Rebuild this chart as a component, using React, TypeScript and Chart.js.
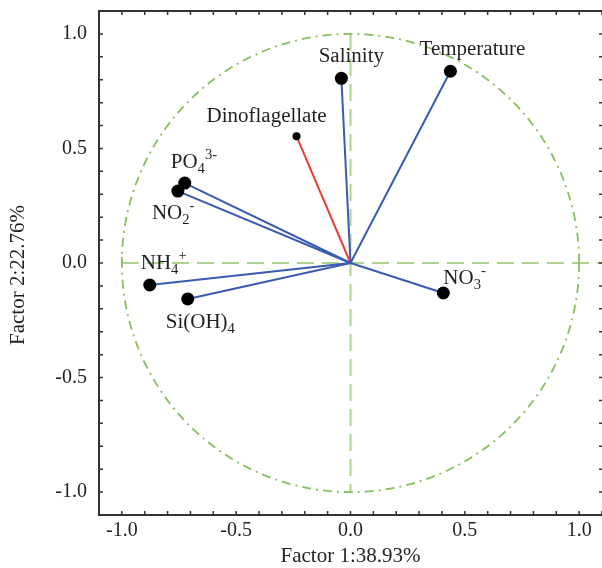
import React, { useEffect, useRef } from 'react';
import { Chart, registerables } from 'chart.js';

Chart.register(...registerables);

// ---- data ----
const variables = ['Salinity', 'Temperature', 'Dinoflagellate', 'PO4', 'NO2', 'NH4', 'Si(OH)4', 'NO3'];
const factor1 = [-0.04, 0.437, -0.236, -0.725, -0.755, -0.878, -0.712, 0.406];
const factor2 = [0.806, 0.837, 0.553, 0.349, 0.314, -0.096, -0.157, -0.131];
// label text: [main, subscript, superscript]
const labelMain = ['Salinity', 'Temperature', 'Dinoflagellate', 'PO', 'NO', 'NH', 'Si(OH)', 'NO'];
const labelSub = ['', '', '', '4', '2', '4', '4', '3'];
const labelSup = ['', '', '', '3-', '-', '+', '', '-'];
const tickValues = [-1.0, -0.5, 0.0, 0.5, 1.0];
const tickLabels = ['-1.0', '-0.5', '0.0', '0.5', '1.0'];
const xTitle = 'Factor 1:38.93%';
const yTitle = 'Factor 2:22.76%';

// ---- styles ----
const FONT = '"Liberation Serif", "Times New Roman", serif';
const TEXT = '#231f20';
const BLUE = '#3a5bb4';
const RED = '#e8402e';
const labelOffsets: [number, number, CanvasTextAlign][] = [
  [10, -22, 'center'],
  [22, -22, 'center'],
  [-30, -20, 'center'],
  [-14, -20, 'left'],
  [-26, 23, 'left'],
  [-9, -21, 'left'],
  [-22, 24, 'left'],
  [0, -14, 'left'],
];

function tickText(v: number): string {
  for (let i = 0; i < tickValues.length; i++) {
    if (Math.abs(v - tickValues[i]) < 1e-6) return tickLabels[i];
  }
  return '';
}

const decorPlugin = {
  id: 'decor',
  afterLayout(chart: any) {
    // stretch the plot area to the right edge of the canvas
    const a = chart.chartArea;
    const xs = chart.scales.x;
    a.right = chart.width;
    a.width = a.right - a.left;
    xs.right = chart.width;
    xs.width = xs.right - xs.left;
    xs.configure();
  },
  beforeDatasetsDraw(chart: any) {
    const { ctx, chartArea, scales } = chart;
    const xs = scales.x;
    const ys = scales.y;
    const cx = xs.getPixelForValue(0);
    const cy = ys.getPixelForValue(0);
    ctx.save();
    // crosshair
    ctx.strokeStyle = '#acd391';
    ctx.lineWidth = 2;
    ctx.setLineDash([17, 8]);
    ctx.beginPath();
    ctx.moveTo(xs.getPixelForValue(-1), cy);
    ctx.lineTo(chartArea.right, cy);
    ctx.moveTo(cx, ys.getPixelForValue(1));
    ctx.lineTo(cx, ys.getPixelForValue(-1));
    ctx.stroke();
    ctx.setLineDash([]);
    ctx.beginPath();
    ctx.moveTo(xs.getPixelForValue(-1), cy);
    ctx.lineTo(xs.getPixelForValue(-1), cy - 6);
    ctx.stroke();
    // circle
    const rx = xs.getPixelForValue(1) - cx;
    const ry = cy - ys.getPixelForValue(1);
    ctx.strokeStyle = '#86bf5c';
    ctx.lineWidth = 1.8;
    ctx.setLineDash([9, 5, 2, 5]);
    ctx.beginPath();
    ctx.ellipse(cx, cy, rx, ry, 0, 0, Math.PI * 2);
    ctx.stroke();
    ctx.setLineDash([]);
    // top border
    ctx.strokeStyle = '#333';
    ctx.lineWidth = 2;
    ctx.beginPath();
    ctx.moveTo(chartArea.left, chartArea.top);
    ctx.lineTo(chartArea.right, chartArea.top);
    ctx.stroke();
    // inward ticks
    ctx.lineWidth = 1.5;
    ctx.beginPath();
    xs.ticks.forEach((t: any) => {
      const px = xs.getPixelForValue(t.value);
      ctx.moveTo(px, chartArea.bottom);
      ctx.lineTo(px, chartArea.bottom - 4);
      ctx.moveTo(px, chartArea.top);
      ctx.lineTo(px, chartArea.top + 4);
    });
    ys.ticks.forEach((t: any) => {
      const py = ys.getPixelForValue(t.value);
      ctx.moveTo(chartArea.left, py);
      ctx.lineTo(chartArea.left + 4, py);
      ctx.moveTo(chartArea.right, py);
      ctx.lineTo(chartArea.right - 3, py);
    });
    ctx.stroke();
    ctx.restore();
  },
  afterDatasetsDraw(chart: any) {
    const { ctx, scales } = chart;
    const xs = scales.x;
    const ys = scales.y;
    ctx.save();
    ctx.fillStyle = TEXT;
    ctx.textBaseline = 'middle';
    variables.forEach((_, i) => {
      const px = xs.getPixelForValue(factor1[i]);
      const py = ys.getPixelForValue(factor2[i]);
      const [dx, dy, align] = labelOffsets[i];
      const mainFont = '20px ' + FONT;
      const subFont = '14px ' + FONT;
      const sx = 1.05;
      ctx.font = mainFont;
      const wMain = ctx.measureText(labelMain[i]).width * sx;
      ctx.font = subFont;
      const wSub = labelSub[i] ? ctx.measureText(labelSub[i]).width * sx : 0;
      const wSup = labelSup[i] ? ctx.measureText(labelSup[i]).width * sx : 0;
      const total = wMain + wSub + wSup;
      let x = px + dx;
      if (align === 'center') x -= total / 2;
      const y = py + dy;
      ctx.textAlign = 'left';
      const put = (s: string, font: string, xx: number, yy: number) => {
        ctx.save();
        ctx.font = font;
        ctx.translate(xx, yy);
        ctx.scale(sx, 1);
        ctx.fillText(s, 0, 0);
        ctx.restore();
      };
      put(labelMain[i], mainFont, x, y);
      x += wMain;
      if (labelSub[i]) {
        put(labelSub[i], subFont, x, y + 6);
        x += wSub;
      }
      if (labelSup[i]) {
        put(labelSup[i], subFont, x, y - 8);
      }
    });
    // axis titles
    ctx.font = '21px ' + FONT;
    ctx.textAlign = 'center';
    ctx.textBaseline = 'middle';
    ctx.fillText(xTitle, xs.getPixelForValue(0), 556);
    ctx.save();
    ctx.translate(18, 275);
    ctx.rotate(-Math.PI / 2);
    ctx.fillText(yTitle, 0, 0);
    ctx.restore();
    ctx.restore();
  },
};

export default function App() {
  const ref = useRef<HTMLCanvasElement | null>(null);
  useEffect(() => {
    if (!ref.current) return;
    const datasets = variables.map((name, i) => ({
      label: name,
      data: [
        { x: 0, y: 0 },
        { x: factor1[i], y: factor2[i] },
      ],
      showLine: true,
      borderColor: i === 2 ? RED : BLUE,
      borderWidth: 2,
      pointRadius: [0, i === 2 ? 4 : 6.5],
      pointBackgroundColor: '#000',
      pointBorderColor: '#000',
      pointBorderWidth: 0,
    }));
    const chart = new Chart(ref.current, {
      type: 'scatter',
      data: { datasets },
      options: {
        animation: false,
        responsive: false,
        events: [],
        layout: { padding: { top: 11, right: 0, left: 0, bottom: 0 } },
        plugins: { legend: { display: false }, tooltip: { enabled: false } },
        scales: {
          x: {
            type: 'linear',
            min: -1.1,
            max: 1.1,
            afterFit: (s: any) => {
              s.height = 53;
              s.paddingLeft = 0;
              s.paddingRight = 0;
            },
            grid: { display: false, drawTicks: false },
            border: { display: true, color: '#333', width: 2 },
            ticks: {
              stepSize: 0.1,
              autoSkip: false,
              maxRotation: 0,
              padding: 4,
              color: TEXT,
              font: { family: FONT, size: 20 },
              callback: (v: any) => tickText(Number(v)),
            },
            title: { display: false },
          },
          y: {
            type: 'linear',
            min: -1.1,
            max: 1.1,
            afterFit: (s: any) => {
              s.width = 99;
              s.paddingTop = 0;
              s.paddingBottom = 0;
            },
            grid: { display: false, drawTicks: false },
            border: { display: true, color: '#333', width: 2 },
            ticks: {
              stepSize: 0.1,
              autoSkip: false,
              padding: 12,
              color: TEXT,
              font: { family: FONT, size: 20 },
              callback: (v: any) => tickText(Number(v)),
            },
            title: { display: false },
          },
        },
      },
      plugins: [decorPlugin],
    });
    return () => chart.destroy();
  }, []);
  return (
    <div style={{ position: 'absolute', left: 0, top: 0, width: 602, height: 568, background: '#fff' }}>
      <canvas ref={ref} width={602} height={568} />
    </div>
  );
}
